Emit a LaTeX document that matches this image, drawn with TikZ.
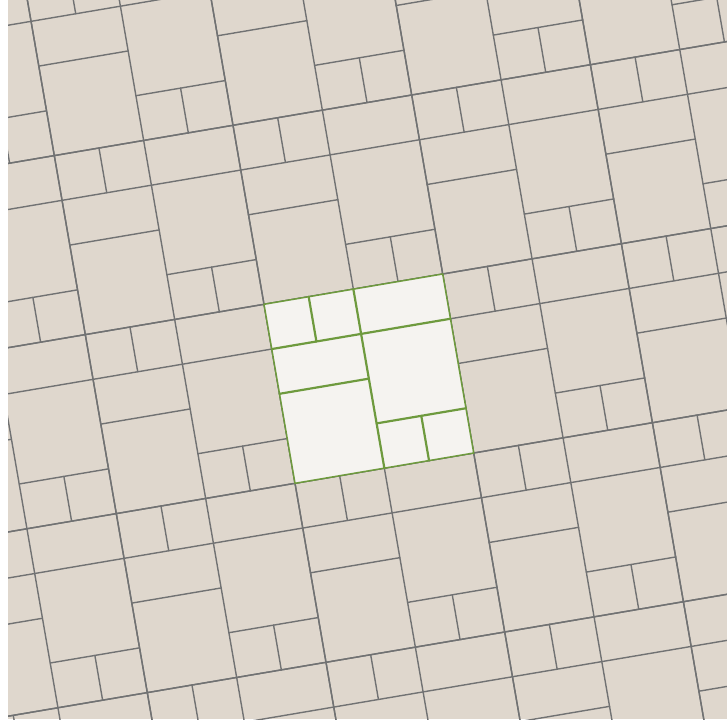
\documentclass[tikz,border=0pt]{standalone}
\usetikzlibrary{calc}
\definecolor{beige}{HTML}{DFD7CD}
\definecolor{grout}{HTML}{717273}
\definecolor{hifill}{HTML}{F5F3F0}
\definecolor{higreen}{HTML}{6E9A3E}
\tikzset{
  groutline/.style={draw=grout, line width=1.4pt, line cap=round},
  hiedge/.style={draw=higreen, line width=1.5pt, line join=miter},
  hiinner/.style={draw=higreen, line width=2.2pt, line cap=round},
}
\newcommand{\tileunit}[1]{%
  \draw[#1] (0,0) -- (1,0) -- (1,1) -- (0,1) -- cycle;
  \draw[#1] (0,0.25) -- (1,0.25);
  \draw[#1] (0.5,0) -- (0.5,1);
  \draw[#1] (0,0.5) -- (0.5,0.5);
  \draw[#1] (0.5,0.75) -- (1,0.75);
  \draw[#1] (0.25,0) -- (0.25,0.25);
  \draw[#1] (0.75,0.75) -- (0.75,1);
}
\begin{document}
\begin{tikzpicture}
\useasboundingbox (0,0) rectangle (727pt,-719pt);
\fill[white] (0,0) rectangle (727pt,-719pt);
\begin{scope}
\clip (8pt,0) rectangle (727pt,-719pt);
\fill[beige] (8pt,0) rectangle (727pt,-719pt);
\begin{scope}[shift={(264pt,-304.3pt)}, x={(178.7pt,30.3pt)}, y={(31pt,-179pt)}]
\foreach \i in {-3,...,3}{
  \foreach \j in {-3,...,3}{
    \begin{scope}[shift={(\i,\j)}]
      \tileunit{groutline}
    \end{scope}
  }
}
% highlighted fundamental tile
\fill[hifill] (0,0) -- (1,0) -- (1,1) -- (0,1) -- cycle;
\draw[hiinner] (0,0.25) -- (1,0.25);
\draw[hiinner] (0.5,0) -- (0.5,1);
\draw[hiinner] (0,0.5) -- (0.5,0.5);
\draw[hiinner] (0.5,0.75) -- (1,0.75);
\draw[hiinner] (0.25,0) -- (0.25,0.25);
\draw[hiinner] (0.75,0.75) -- (0.75,1);
\draw[hiedge] (0,0) -- (1,0) -- (1,1) -- (0,1) -- cycle;
\end{scope}
\end{scope}
\end{tikzpicture}
\end{document}
